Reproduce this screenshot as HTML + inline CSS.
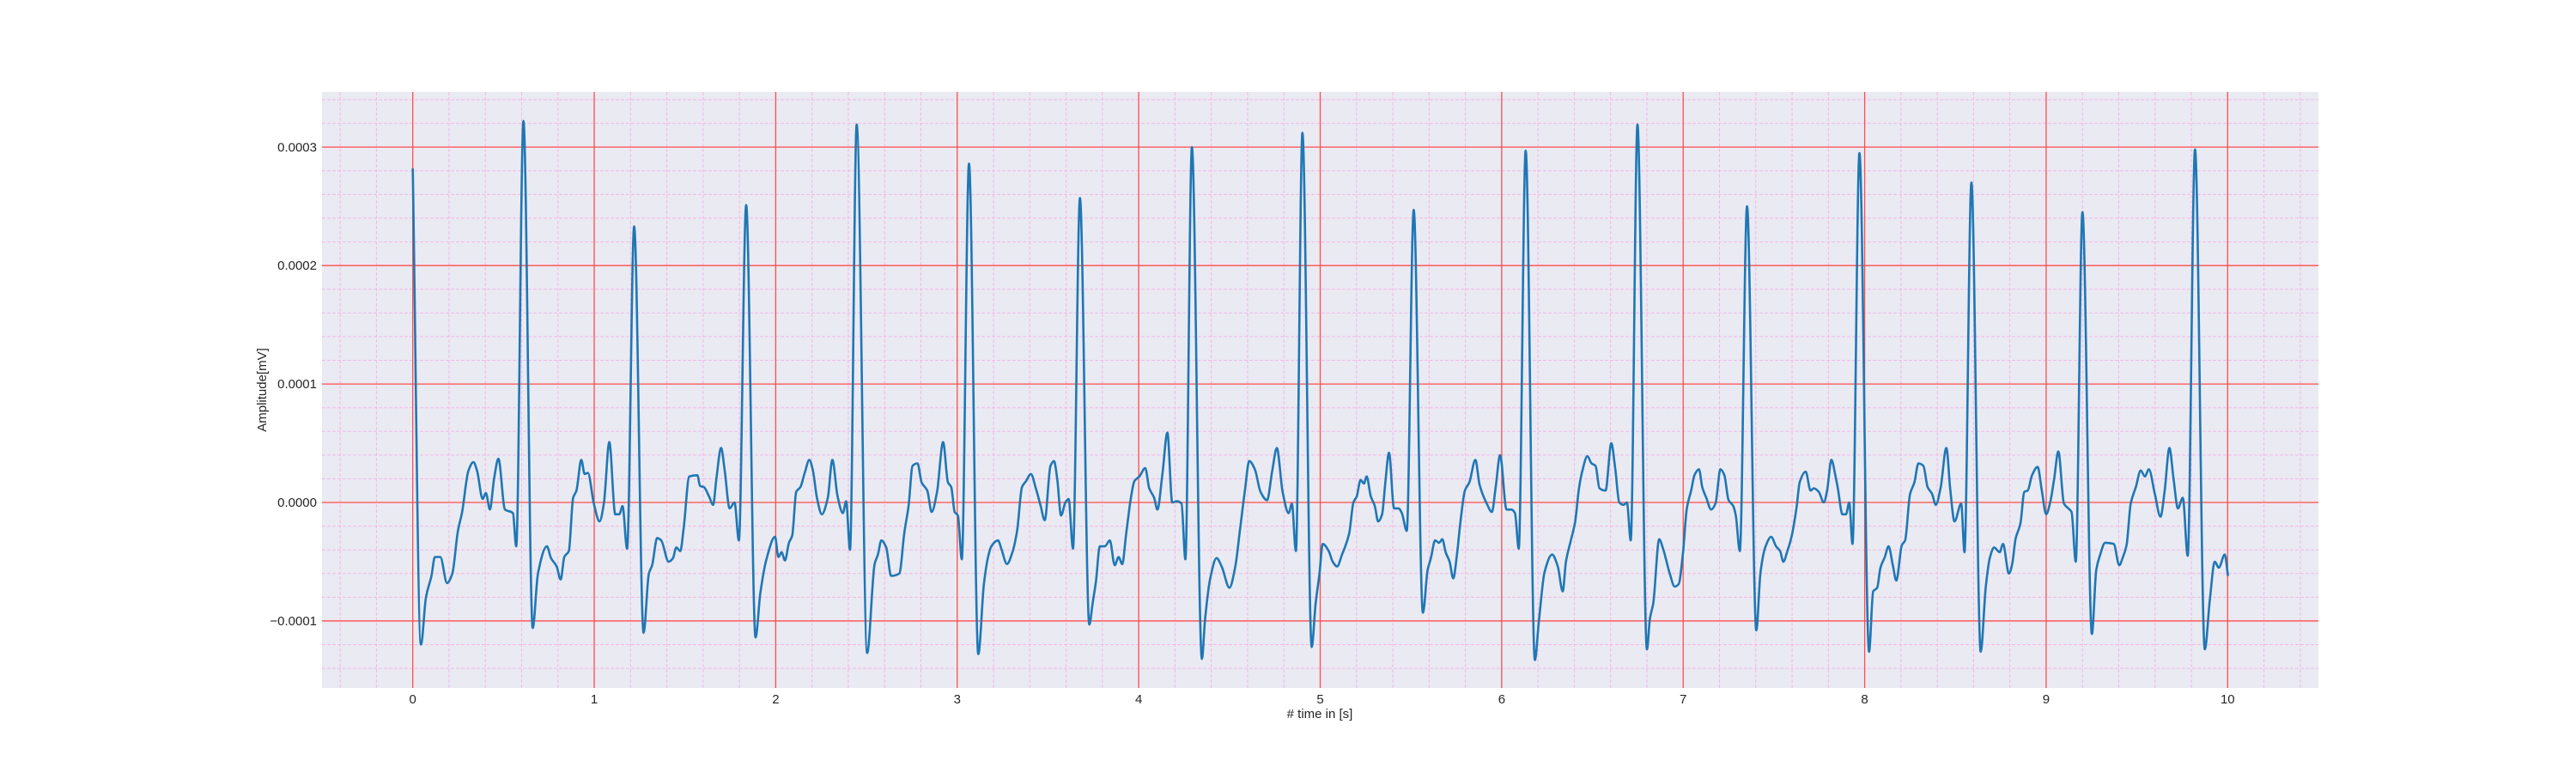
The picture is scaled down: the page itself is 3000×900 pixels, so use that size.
<!DOCTYPE html>
<html><head><meta charset="utf-8">
<style>
html,body{margin:0;padding:0;background:#fff;}
svg{display:block;font-family:"Liberation Sans",sans-serif;}
</style></head>
<body>
<svg id="chart" width="3000" height="900" viewBox="0 0 3000 900" xmlns="http://www.w3.org/2000/svg">
<rect x="375" y="107" width="2325" height="694" fill="#eaeaf2"/>
<g id="grid"></g>
<g id="series"></g>
<g id="ticks"></g>
<text x="1537" y="836" font-size="15" fill="#262626" text-anchor="middle"># time in [s]</text>
<text x="0" y="0" transform="translate(310,454) rotate(-90)" font-size="15" fill="#262626" text-anchor="middle">Amplitude[mV]</text>
</svg>
<script>
// data (amplitude stored in units of 1e-4 mV)
const timeS = [0,0.045,0.073,0.103,0.122,0.152,0.189,0.218,0.249,0.272,0.307,0.334,0.354,0.385,0.403,0.425,0.448,0.472,0.508,0.552,0.570,0.610,0.661,0.690,0.739,0.762,0.793,0.815,0.835,0.860,0.884,0.902,0.929,0.947,0.965,0.998,1.029,1.053,1.083,1.116,1.138,1.156,1.181,1.220,1.272,1.301,1.319,1.347,1.369,1.410,1.434,1.452,1.474,1.492,1.524,1.568,1.583,1.604,1.633,1.655,1.673,1.699,1.719,1.746,1.773,1.797,1.837,1.889,1.915,1.949,1.996,2.015,2.032,2.051,2.073,2.091,2.113,2.136,2.160,2.185,2.205,2.227,2.254,2.287,2.312,2.341,2.370,2.388,2.409,2.446,2.504,2.545,2.563,2.582,2.609,2.636,2.681,2.708,2.732,2.754,2.781,2.804,2.835,2.859,2.889,2.922,2.949,2.967,2.986,3.004,3.025,3.065,3.116,3.147,3.170,3.188,3.225,3.243,3.274,3.306,3.330,3.357,3.379,3.406,3.433,3.460,3.482,3.514,3.533,3.551,3.572,3.596,3.614,3.638,3.676,3.728,3.746,3.764,3.786,3.813,3.841,3.868,3.889,3.909,3.931,3.958,3.976,4.004,4.036,4.058,4.085,4.103,4.130,4.158,4.185,4.212,4.236,4.257,4.293,4.348,4.366,4.393,4.429,4.457,4.500,4.531,4.558,4.585,4.609,4.640,4.671,4.707,4.736,4.761,4.793,4.826,4.844,4.866,4.902,4.953,4.975,4.996,5.014,5.047,5.069,5.093,5.120,5.160,5.183,5.201,5.223,5.241,5.256,5.279,5.301,5.319,5.341,5.359,5.379,5.407,5.432,5.450,5.477,5.515,5.566,5.592,5.610,5.633,5.655,5.673,5.691,5.713,5.733,5.755,5.773,5.797,5.822,5.855,5.878,5.918,5.946,5.967,5.991,6.027,6.054,6.073,6.094,6.132,6.183,6.205,6.236,6.278,6.309,6.336,6.354,6.381,6.405,6.426,6.445,6.472,6.495,6.517,6.539,6.572,6.604,6.626,6.648,6.672,6.690,6.711,6.748,6.800,6.817,6.835,6.868,6.889,6.926,6.953,6.975,6.998,7.020,7.044,7.062,7.087,7.105,7.127,7.154,7.178,7.205,7.227,7.250,7.276,7.290,7.312,7.352,7.403,7.426,7.454,7.485,7.512,7.534,7.552,7.574,7.597,7.624,7.642,7.675,7.702,7.720,7.747,7.775,7.793,7.817,7.838,7.851,7.878,7.897,7.915,7.933,7.971,8.024,8.047,8.069,8.087,8.111,8.132,8.154,8.174,8.205,8.223,8.250,8.274,8.296,8.323,8.347,8.372,8.392,8.419,8.450,8.472,8.495,8.532,8.550,8.588,8.639,8.668,8.691,8.713,8.744,8.762,8.795,8.813,8.831,8.858,8.880,8.898,8.922,8.953,8.976,9.000,9.022,9.044,9.067,9.098,9.122,9.140,9.163,9.200,9.252,9.276,9.298,9.325,9.372,9.403,9.421,9.443,9.466,9.494,9.521,9.544,9.566,9.599,9.630,9.653,9.679,9.702,9.726,9.753,9.780,9.820,9.874,9.902,9.929,9.951,9.984,10.002];
const ampE4 = [2.82,-1.20,-0.80,-0.62,-0.46,-0.46,-0.68,-0.60,-0.24,-0.08,0.27,0.34,0.27,0.03,0.08,-0.06,0.20,0.37,-0.06,-0.09,-0.37,3.22,-1.06,-0.60,-0.37,-0.47,-0.54,-0.65,-0.46,-0.41,0.04,0.10,0.36,0.24,0.25,-0.01,-0.16,-0.01,0.51,-0.10,-0.10,-0.03,-0.39,2.33,-1.10,-0.60,-0.53,-0.30,-0.32,-0.50,-0.47,-0.38,-0.41,-0.23,0.22,0.23,0.14,0.13,0.05,-0.02,0.20,0.46,0.27,-0.05,0.00,-0.32,2.51,-1.14,-0.77,-0.48,-0.29,-0.46,-0.42,-0.49,-0.34,-0.28,0.09,0.13,0.25,0.36,0.27,0.04,-0.10,0.04,0.36,0.05,-0.09,0.01,-0.40,3.19,-1.27,-0.52,-0.44,-0.32,-0.38,-0.62,-0.60,-0.26,-0.03,0.31,0.33,0.17,0.10,-0.08,0.09,0.51,0.17,0.13,-0.08,-0.11,-0.48,2.86,-1.28,-0.69,-0.46,-0.37,-0.32,-0.39,-0.52,-0.41,-0.24,0.13,0.18,0.24,0.12,-0.03,-0.15,0.31,0.35,0.20,-0.11,0.00,0.03,-0.39,2.57,-1.03,-0.85,-0.67,-0.37,-0.37,-0.32,-0.53,-0.46,-0.52,-0.26,0.05,0.18,0.22,0.29,0.12,0.04,-0.06,0.23,0.59,0.00,0.01,-0.01,-0.48,3.00,-1.32,-0.98,-0.65,-0.47,-0.54,-0.72,-0.55,-0.23,0.10,0.35,0.28,0.09,0.02,0.27,0.46,0.09,-0.09,-0.01,-0.41,3.12,-1.22,-0.85,-0.60,-0.35,-0.41,-0.50,-0.54,-0.44,-0.26,0.00,0.05,0.19,0.16,0.22,0.05,-0.03,-0.16,-0.10,0.17,0.42,-0.05,-0.05,-0.09,-0.24,2.47,-0.93,-0.57,-0.47,-0.32,-0.34,-0.31,-0.42,-0.50,-0.64,-0.42,-0.16,0.10,0.17,0.36,0.15,-0.01,-0.08,0.13,0.40,-0.06,-0.06,-0.09,-0.39,2.97,-1.33,-1.00,-0.59,-0.44,-0.54,-0.75,-0.50,-0.32,-0.16,0.12,0.27,0.39,0.33,0.31,0.12,0.10,0.50,0.28,0.00,-0.02,0.00,-0.32,3.19,-1.24,-0.98,-0.85,-0.31,-0.39,-0.60,-0.71,-0.69,-0.44,-0.05,0.10,0.23,0.28,0.13,0.04,-0.06,-0.01,0.28,0.23,0.02,-0.03,-0.11,-0.41,2.50,-1.08,-0.59,-0.37,-0.29,-0.37,-0.41,-0.50,-0.41,-0.29,-0.05,0.17,0.26,0.10,0.12,0.09,0.00,0.10,0.36,0.23,0.13,-0.10,-0.10,0.00,-0.35,2.95,-1.26,-0.75,-0.72,-0.55,-0.46,-0.37,-0.52,-0.66,-0.36,-0.32,0.07,0.17,0.33,0.31,0.13,0.07,-0.02,0.13,0.46,0.10,-0.16,-0.01,-0.42,2.70,-1.26,-0.70,-0.46,-0.38,-0.42,-0.35,-0.60,-0.52,-0.31,-0.18,0.09,0.10,0.23,0.30,0.10,-0.10,0.00,0.20,0.43,-0.01,-0.05,-0.08,-0.50,2.45,-1.11,-0.57,-0.44,-0.34,-0.35,-0.53,-0.47,-0.36,-0.01,0.13,0.27,0.22,0.28,0.07,-0.12,0.10,0.46,0.20,-0.05,0.04,-0.45,2.98,-1.24,-0.82,-0.50,-0.55,-0.44,-0.62];
const xTickValues = [0,1,2,3,4,5,6,7,8,9,10];
const yTickValues = [-0.0001,0,0.0001,0.0002,0.0003];
const yTickLabels = ["\u22120.0001","0.0000","0.0001","0.0002","0.0003"];

const L=375,R=2700,T=107,B=801;
const xMin=-0.5,xMax=10.5,yMin=-1.566e-4,yMax=3.466e-4;
const sx=v=>L+(v-xMin)/(xMax-xMin)*(R-L);
const sy=v=>B-(v-yMin)/(yMax-yMin)*(B-T);
const NS="http://www.w3.org/2000/svg";
function mk(tag,attrs,parent){const e=document.createElementNS(NS,tag);for(const k in attrs)e.setAttribute(k,attrs[k]);parent.appendChild(e);return e;}
const grid=document.getElementById('grid');
// minor grid
for(let i=-2;i<=52;i++){const v=i*0.2;if(v<xMin||v>xMax||i%5===0)continue;
 const l=mk('line',{x1:sx(v),x2:sx(v),y1:T,y2:B,stroke:'#f4b8e6','stroke-width':1,'stroke-dasharray':'4,2'},grid);
 
 }
for(let i=-8;i<=17;i++){const v=i*0.2e-4;if(v<yMin||v>yMax||i%5===0)continue;
 const l=mk('line',{x1:L,x2:R,y1:sy(v),y2:sy(v),stroke:'#f4b8e6','stroke-width':1,'stroke-dasharray':'4,2'},grid);
 
 }
// major grid
xTickValues.forEach(v=>{const l=mk('line',{x1:sx(v),x2:sx(v),y1:T,y2:B,stroke:'#ff4d4d','stroke-width':1.3},grid);
 
 });
yTickValues.forEach(v=>{const l=mk('line',{x1:L,x2:R,y1:sy(v),y2:sy(v),stroke:'#ff4d4d','stroke-width':1.3},grid);
 
 });
// tick labels
const ticks=document.getElementById('ticks');
xTickValues.forEach(v=>{const t=mk('text',{x:sx(v),y:819,'font-size':15,fill:'#262626','text-anchor':'middle'},ticks);t.textContent=String(v);
 
 });
yTickValues.forEach((v,i)=>{const t=mk('text',{x:369,y:sy(v)+5,'font-size':15,fill:'#262626','text-anchor':'end'},ticks);t.textContent=yTickLabels[i];
 
 });
// series (monotone cubic interpolation, no overshoot)
const pts=timeS.map((t,i)=>[sx(t),sy(ampE4[i]*1e-4)]);
const n=pts.length;
const dk=[],m=new Array(n).fill(0);
for(let i=0;i<n-1;i++){dk.push((pts[i+1][1]-pts[i][1])/(pts[i+1][0]-pts[i][0]));}
m[0]=dk[0];m[n-1]=dk[n-2];
for(let i=1;i<n-1;i++){
 if(dk[i-1]*dk[i]<=0){m[i]=0;}
 else{const h0=pts[i][0]-pts[i-1][0],h1=pts[i+1][0]-pts[i][0];
  const w1=2*h1+h0,w2=h1+2*h0;m[i]=(w1+w2)/(w1/dk[i-1]+w2/dk[i]);}
}
let d='M'+pts[0][0].toFixed(1)+','+pts[0][1].toFixed(1);
for(let i=0;i<n-1;i++){
 const h=(pts[i+1][0]-pts[i][0])/3;
 d+='C'+(pts[i][0]+h).toFixed(1)+','+(pts[i][1]+m[i]*h).toFixed(1)+' '+(pts[i+1][0]-h).toFixed(1)+','+(pts[i+1][1]-m[i+1]*h).toFixed(1)+' '+pts[i+1][0].toFixed(1)+','+pts[i+1][1].toFixed(1);
}
const p=mk('path',{d:d,fill:'none',stroke:'#1f77b4','stroke-width':2.6,'stroke-linejoin':'round'},document.getElementById('series'));


</script>
</body></html>
